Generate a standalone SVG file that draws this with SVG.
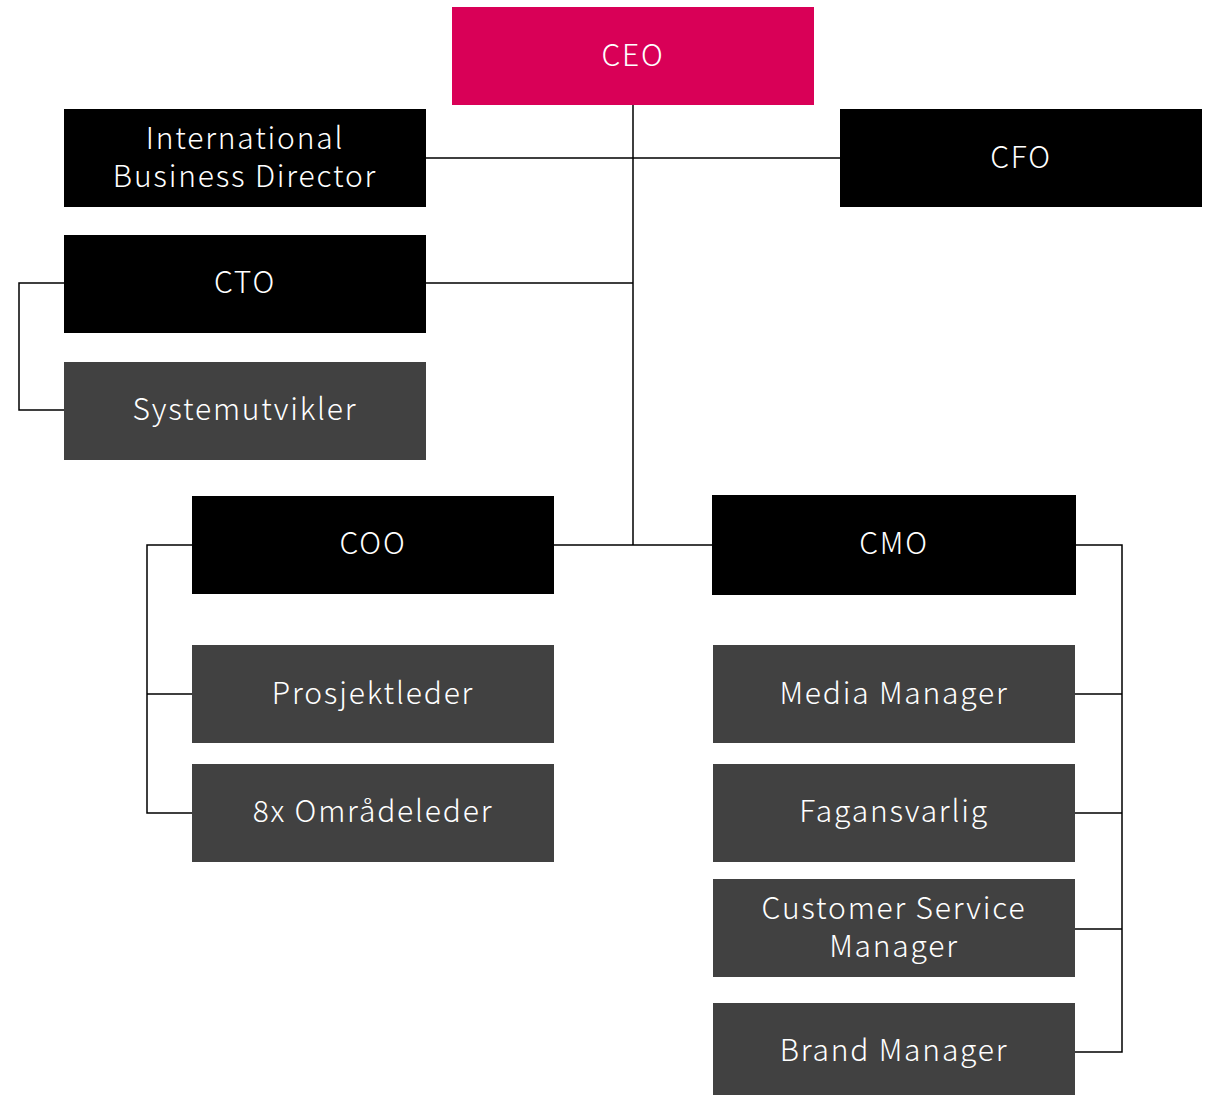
<svg xmlns="http://www.w3.org/2000/svg" width="1207" height="1095" viewBox="0 0 1207 1095">
<style>
.box{fill:#000}
.sub{fill:#414141}
.ceo{fill:#D90057}
text{font-family:"Noto Sans CJK JP","Noto Sans",sans-serif;font-weight:300;font-size:30px;fill:#fff;text-anchor:middle;letter-spacing:1.8px}
.ln{stroke:#000;stroke-width:1.5;fill:none}
</style>
<rect width="1207" height="1095" fill="#fff"/>
<g id="connectors">
<path class="ln" d="M633 105V545M426 158H840M426 283H633M554 545H712"/>
<path class="ln" d="M64 283H19V410H64"/>
<path class="ln" d="M192 545H147V813H192M147 694H192"/>
<path class="ln" d="M1076 545H1122V1052H1075M1075 694H1122M1075 813H1122M1075 929H1122"/>
</g>
<g id="ceo"><rect class="ceo" x="452" y="7" width="362" height="98"/><text x="633" y="66">CEO</text></g>
<g id="ibd"><rect class="box" x="64" y="109" width="362" height="98"/><text x="245" y="149">International</text><text x="245" y="187">Business Director</text></g>
<g id="cfo"><rect class="box" x="840" y="109" width="362" height="98"/><text x="1021" y="168">CFO</text></g>
<g id="cto"><rect class="box" x="64" y="235" width="362" height="98"/><text x="245" y="293">CTO</text></g>
<g id="systemutvikler"><rect class="sub" x="64" y="362" width="362" height="98"/><text x="245" y="420">Systemutvikler</text></g>
<g id="coo"><rect class="box" x="192" y="496" width="362" height="98"/><text x="373" y="554">COO</text></g>
<g id="prosjektleder"><rect class="sub" x="192" y="645" width="362" height="98"/><text x="373" y="704">Prosjektleder</text></g>
<g id="omradeleder"><rect class="sub" x="192" y="764" width="362" height="98"/><text x="373" y="822">8x Områdeleder</text></g>
<g id="cmo"><rect class="box" x="712" y="495" width="364" height="100"/><text x="894" y="554">CMO</text></g>
<g id="media"><rect class="sub" x="713" y="645" width="362" height="98"/><text x="894" y="704">Media Manager</text></g>
<g id="fag"><rect class="sub" x="713" y="764" width="362" height="98"/><text x="894" y="822">Fagansvarlig</text></g>
<g id="csm"><rect class="sub" x="713" y="879" width="362" height="98"/><text x="894" y="919">Customer Service</text><text x="894" y="957">Manager</text></g>
<g id="brand"><rect class="sub" x="713" y="1003" width="362" height="92"/><text x="894" y="1061">Brand Manager</text></g>
</svg>
